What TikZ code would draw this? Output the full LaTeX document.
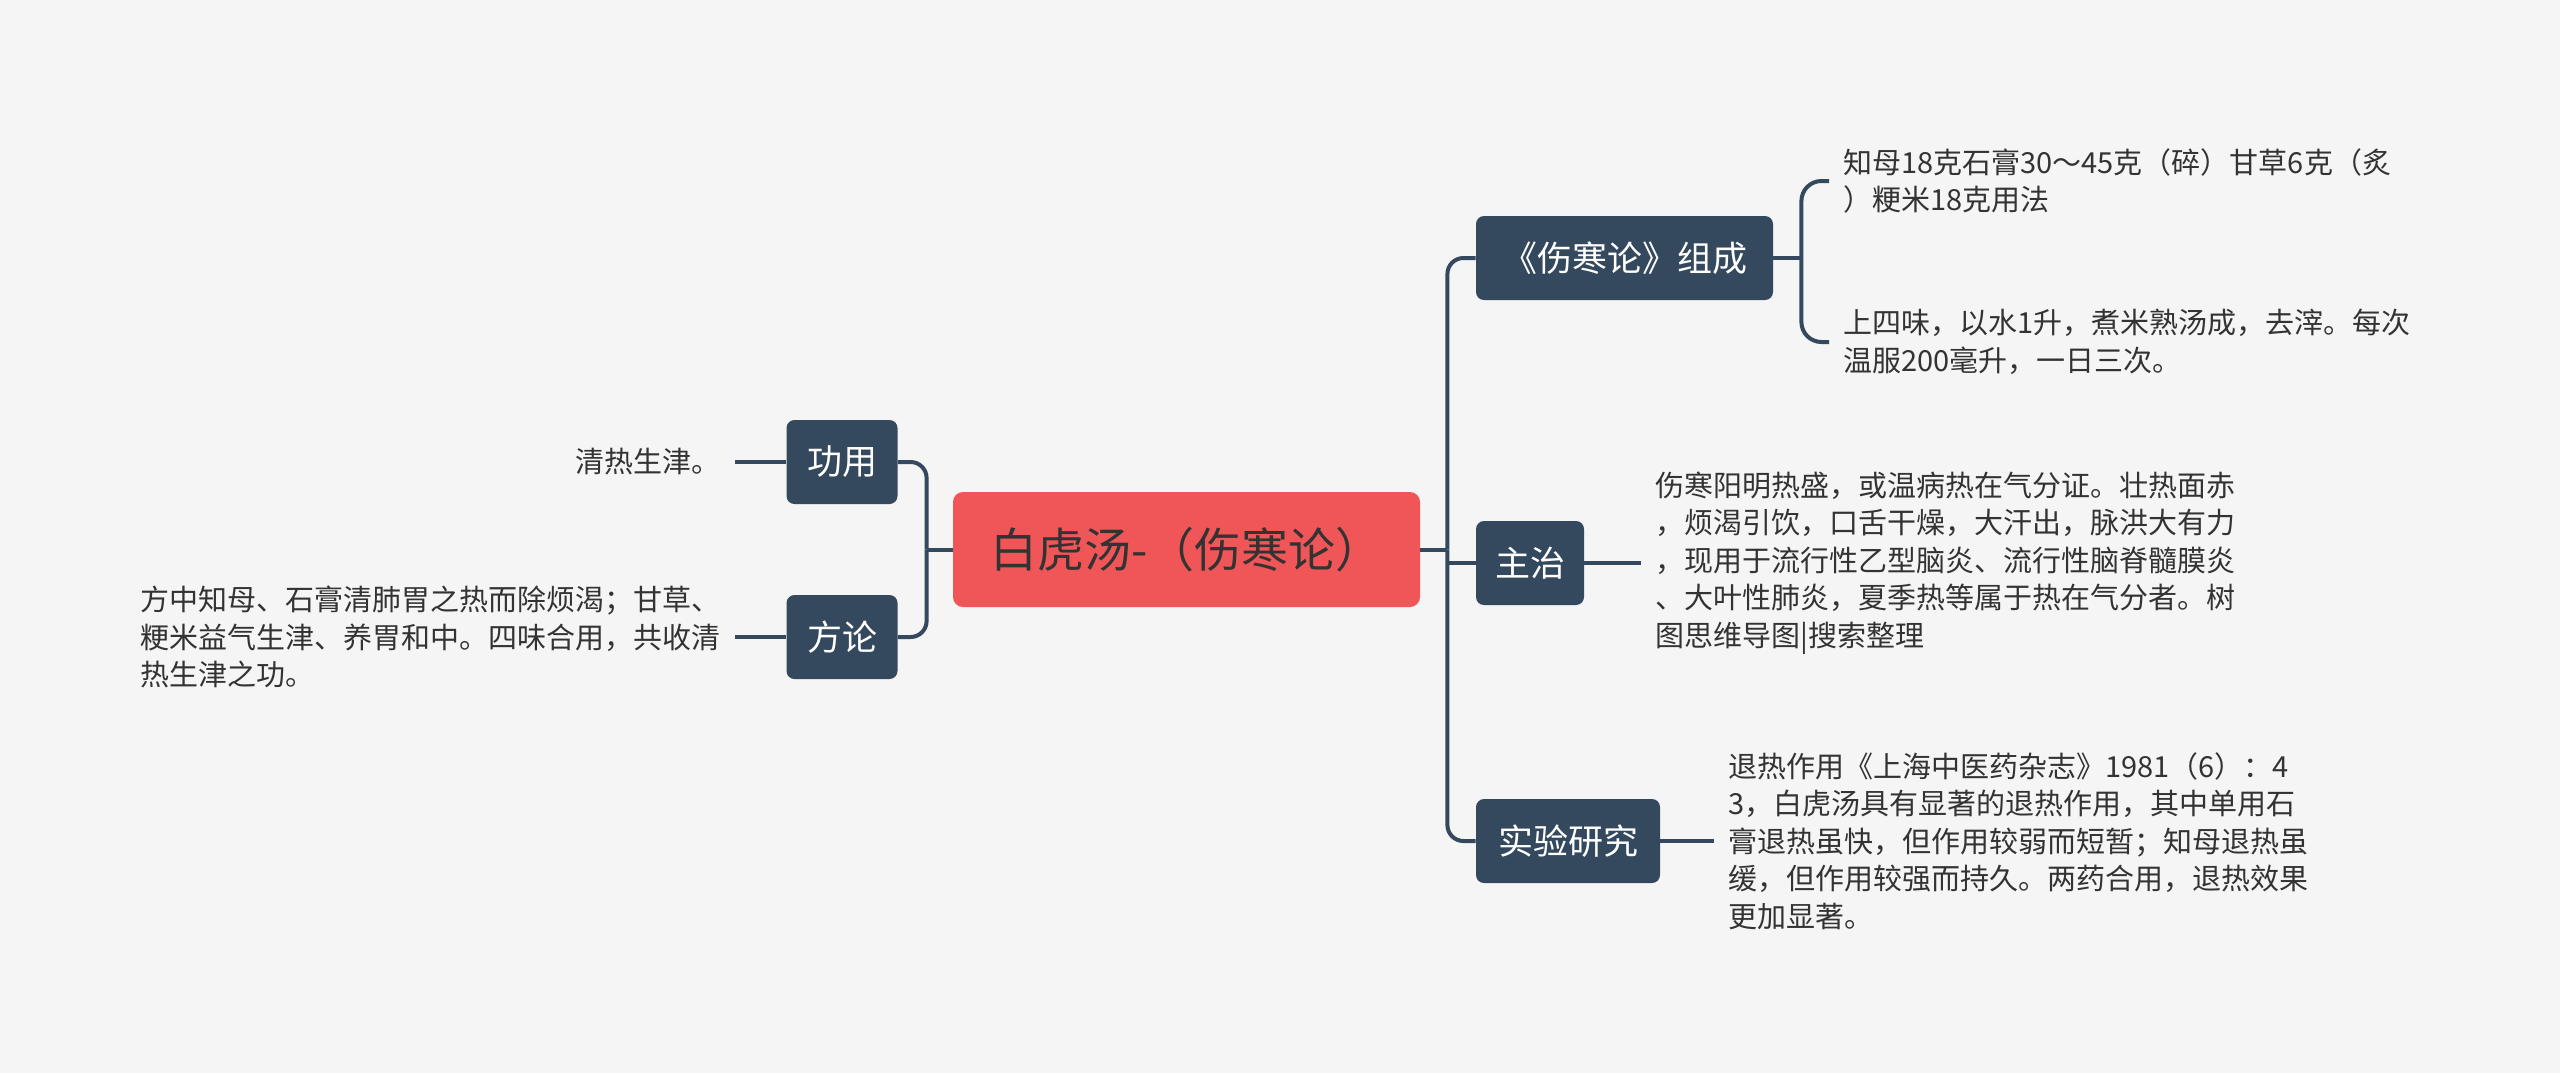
\documentclass[tikz,border=0pt]{standalone}
\usepackage{fontspec}
\setmainfont{Noto Sans CJK SC}
\usepackage{tikz}
\definecolor{bgcol}{HTML}{F5F5F5}
\definecolor{navy}{HTML}{34495E}
\definecolor{rootred}{HTML}{F05557}
\definecolor{txt}{HTML}{333333}

\begin{document}
\begin{tikzpicture}[
  x=0.5pt, y=-0.5pt,
  link/.style={draw=navy, line width=2pt},
  root/.style={fill=rootred, text=txt, rounded corners=5pt, minimum width=233.5pt, minimum height=57.5pt, font=\fontsize{23.5pt}{28pt}\selectfont},
  topic/.style={fill=navy, text=white, rounded corners=4pt, minimum height=42pt, inner sep=0pt, font=\fontsize{17.5pt}{21pt}\selectfont},
  leaf/.style={text=txt, align=left, inner xsep=7pt, font=\fontsize{14.5pt}{18.75pt}\selectfont}
]
\fill[bgcol] (0,0) rectangle (2560,1073);
\useasboundingbox (0,0) rectangle (2560,1073);

% main topic and branches
\node[root] (root) at (1186.5,549.5) {白虎汤-（伤寒论）};
\node[topic, minimum width=55.5pt] (gy) at (842,462) {功用};
\node[topic, minimum width=55.5pt] (fl) at (842,637) {方论};
\node[topic, minimum width=148.5pt] (zc) at (1624.5,258) {《伤寒论》组成};
\node[topic, minimum width=54pt] (zz) at (1530,563) {主治};
\node[topic, minimum width=92pt] (sy) at (1568,841) {实验研究};

% leaves
\node[leaf, anchor=east] (gyt) at (735,462) {清热生津。};
\node[leaf, anchor=east] (flt) at (735,637) {方中知母、石膏清肺胃之热而除烦渴；甘草、\\粳米益气生津、养胃和中。四味合用，共收清\\热生津之功。};
\node[leaf, anchor=west] (zc1) at (1829,181) {知母18克石膏30～45克（碎）甘草6克（炙\\）粳米18克用法};
\node[leaf, anchor=west] (zc2) at (1829,342) {上四味，以水1升，煮米熟汤成，去滓。每次\\温服200毫升，一日三次。};
\node[leaf, anchor=west] (zzt) at (1641,563) {伤寒阳明热盛，或温病热在气分证。壮热面赤\\，烦渴引饮，口舌干燥，大汗出，脉洪大有力\\，现用于流行性乙型脑炎、流行性脑脊髓膜炎\\、大叶性肺炎，夏季热等属于热在气分者。树\\图思维导图|搜索整理};
\node[leaf, anchor=west] (syt) at (1714,841) {退热作用《上海中医药杂志》1981（6）：4\\3，白虎汤具有显著的退热作用，其中单用石\\膏退热虽快，但作用较弱而短暂；知母退热虽\\缓，但作用较强而持久。两药合用，退热效果\\更加显著。};

% left side
\draw[link] (root.west) -- ++(-26,0) coordinate (lt);
\draw[link, rounded corners=8pt] (lt) |- (gy.east);
\draw[link, rounded corners=8pt] (lt) |- (fl.east);
\draw[link] (gy.west) -- (gyt.east);
\draw[link] (fl.west) -- (flt.east);

% right side
\draw[link] (root.east) -- ++(27,0) coordinate (rt);
\draw[link, rounded corners=8pt] (rt) |- (zc.west);
\draw[link, rounded corners=8pt] (rt) |- (sy.west);
\draw[link] (rt |- zz.west) -- (zz.west);
\draw[link] (zz.east) -- (zzt.west);
\draw[link] (sy.east) -- (syt.west);
\draw[link] (zc.east) -- ++(28,0) coordinate (zb);
\draw[link, rounded corners=10pt] (zb) |- (zc1.west);
\draw[link, rounded corners=10pt] (zb) |- (zc2.west);
\end{tikzpicture}
\end{document}
